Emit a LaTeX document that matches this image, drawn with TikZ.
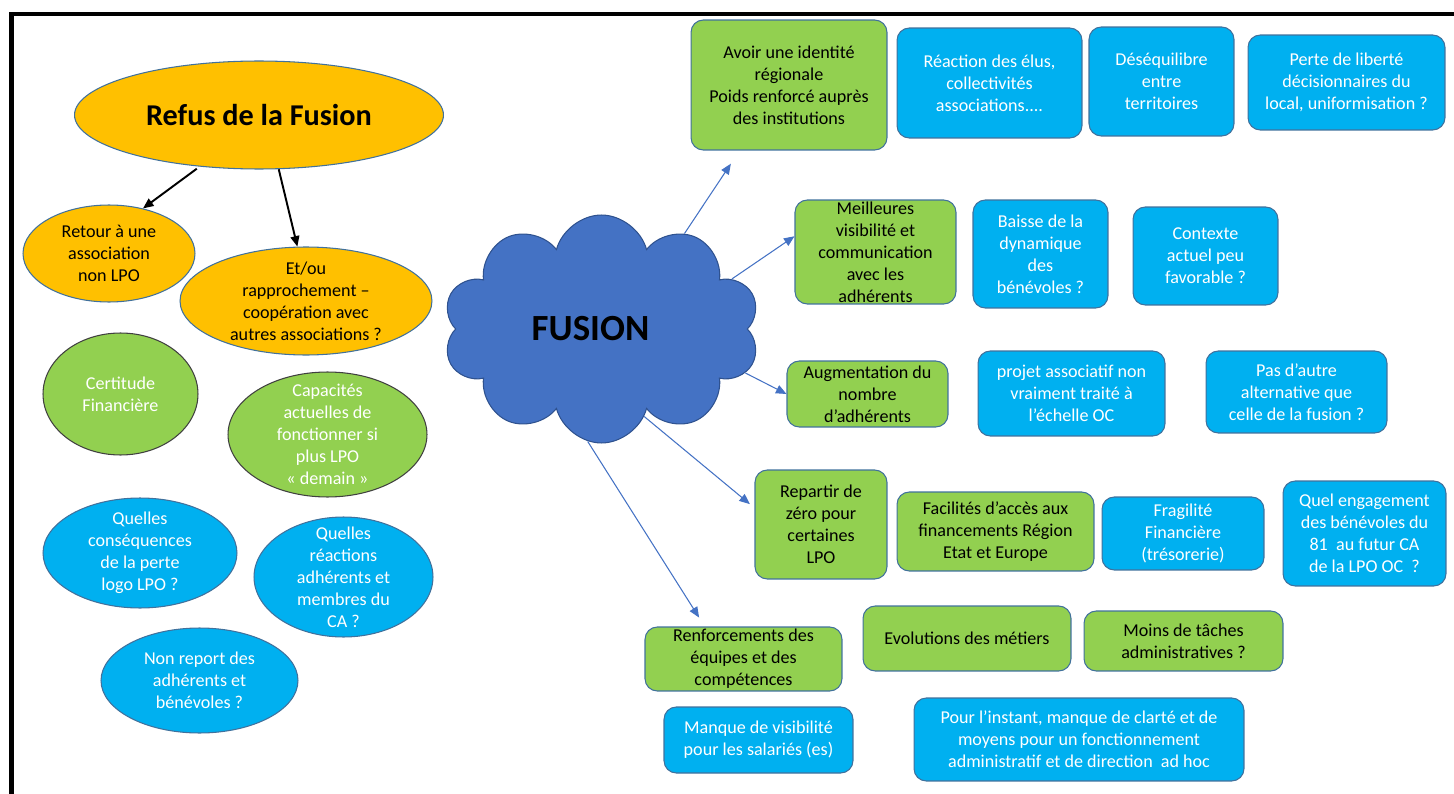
\documentclass[tikz,border=0pt]{standalone}
\usepackage{fontspec}
\setmainfont{Carlito}
\usetikzlibrary{shapes.geometric,shapes.symbols,arrows.meta}
\definecolor{orangefill}{HTML}{FFC000}
\definecolor{greenfill}{HTML}{92D050}
\definecolor{bluefill}{HTML}{00B0F0}
\definecolor{cloudfill}{HTML}{4472C4}
\definecolor{edgeblue}{HTML}{41719C}
\definecolor{clouddraw}{HTML}{2F528F}
\newcommand\boxfont{\fontsize{10.3}{12.5}\selectfont}
\tikzset{
  dims/.style 2 args={minimum width=#1cm, minimum height=#2cm},
  bubble/.style={ellipse, draw=edgeblue, line width=0.6pt, inner sep=-0.3cm, align=center, font=\boxfont},
  orangebubble/.style={bubble, fill=orangefill, text=black},
  greenbubble/.style={bubble, fill=greenfill, draw=black!75, text=white},
  bluebubble/.style={bubble, fill=bluefill, text=white},
  card/.style={rectangle, rounded corners=7pt, draw=edgeblue, line width=0.6pt, inner sep=0pt, align=center, font=\boxfont},
  greencard/.style={card, fill=greenfill, text=black},
  bluecard/.style={card, fill=bluefill, text=white},
  blackarrow/.style={-{Triangle[length=6pt,width=5pt]}, line width=1.1pt, black},
  bluearrow/.style={-{Triangle[length=6pt,width=5pt]}, line width=0.6pt, cloudfill}
}
\begin{document}
\begin{tikzpicture}[x=0.02cm, y=-0.02cm]
            \useasboundingbox (0,0) rectangle (1454,794);
            \draw[line width=2.3pt] (11.5,794) -- (11.5,14) -- (1454,14);
            \node[orangebubble, dims={7.38}{2.16}, font=\fontsize{17.2}{20}\selectfont\bfseries] (refus) at (259,115) {Refus de la Fusion};
            \node[orangebubble, dims={3.44}{1.94}] (retour) at (109,253.5) {Retour à une\\association\\non LPO};
            \node[orangebubble, dims={5.04}{2.16}] (etou) at (306,301) {Et/ou\\rapprochement –\\coopération avec\\autres associations ?};
            \node[greenbubble, dims={3.10}{2.44}] (certitude) at (120.5,394) {Certitude\\Financière};
            \node[greenbubble, dims={3.98}{2.50}] (capacites) at (327.5,434.5) {Capacités\\actuelles de\\fonctionner si\\plus LPO\\«~demain~»};
            \node[bluebubble, dims={3.88}{2.20}] (consequences) at (140,553) {Quelles\\conséquences\\de la perte\\logo LPO ?};
            \node[bluebubble, dims={3.58}{2.40}] (reactions) at (343.5,577) {Quelles\\réactions\\adhérents et\\membres du\\CA ?};
            \node[bluebubble, dims={3.94}{2.10}] (nonreport) at (199.5,680.5) {Non report des\\adhérents et\\bénévoles ?};
            \draw[blackarrow, shorten <=2pt] (refus.221) -- (retour.53);
            \draw[blackarrow] (refus.290) -- (etou.99);
            \node[cloud, cloud puffs=10, aspect=1.4, fill=cloudfill, draw=clouddraw, line width=0.6pt, dims={6.34}{4.56}, font=\fontsize{21}{25}\selectfont\bfseries] (fusion) at (601.5,329) {FUSION\hspace*{0.44cm}};
            \node[greencard, dims={3.92}{2.60}] (avoir) at (789,85) {Avoir une identité\\régionale\\Poids renforcé auprès\\des institutions};
            \node[bluecard, dims={3.70}{2.20}] (reaction) at (989.5,83) {Réaction des élus,\\collectivités\\associations....};
            \node[bluecard, dims={2.90}{2.18}] (desequilibre) at (1161.5,81.5) {Déséquilibre\\entre\\territoires};
            \node[bluecard, dims={3.94}{1.90}] (perte) at (1346.5,82.5) {Perte de liberté\\décisionnaires du\\local, uniformisation ?};
            \node[greencard, dims={3.22}{2.08}] (meilleures) at (875.5,252) {Meilleures\\visibilité et\\communication\\avec les\\adhérents};
            \node[bluecard, dims={2.70}{2.16}] (baisse) at (1040.5,254) {Baisse de la\\dynamique\\des\\bénévoles ?};
            \node[bluecard, dims={2.90}{1.96}] (contexte) at (1205.5,256) {Contexte\\actuel peu\\favorable ?};
            \node[greencard, dims={3.22}{1.32}] (augmentation) at (867.5,394) {Augmentation du\\nombre\\d’adhérents};
            \node[bluecard, dims={3.74}{1.70}] (projet) at (1071.5,393.5) {projet associatif non\\vraiment traité à\\l’échelle OC};
            \node[bluecard, dims={3.62}{1.64}] (pasautre) at (1296.5,392) {Pas d’autre\\alternative que\\celle de la fusion ?};
            \node[greencard, dims={2.64}{2.18}] (repartir) at (821,524.5) {Repartir de\\zéro pour\\certaines\\LPO};
            \node[greencard, dims={3.94}{1.58}] (facilites) at (995.5,531.5) {Facilités d’accès aux\\financements Région\\Etat et Europe};
            \node[bluecard, dims={3.24}{1.46}] (fragilite) at (1183,533.5) {Fragilité\\Financière\\(trésorerie)};
            \node[bluecard, dims={3.26}{2.10}] (engagement) at (1364.5,533.5) {Quel engagement\\des bénévoles du\\81\ \ au futur CA\\de la LPO OC\ \ ?};
            \node[greencard, dims={3.94}{1.28}] (renforcements) at (743.5,659) {Renforcements des\\équipes et des\\compétences};
            \node[greencard, dims={4.16}{1.30}] (evolutions) at (967,638.5) {Evolutions des métiers};
            \node[greencard, dims={3.98}{1.20}] (moins) at (1183.5,641) {Moins de tâches\\administratives ?};
            \node[bluecard, dims={3.78}{1.32}] (manque) at (758.5,740) {Manque de visibilité\\pour les salariés (es)};
            \node[bluecard, dims={6.60}{1.66}] (instant) at (1079,739.5) {Pour l’instant, manque de clarté et de\\moyens pour un fonctionnement\\administratif et de direction\ \ ad hoc};
            \draw[bluearrow, shorten >=9pt] (fusion.49) -- (avoir.233);
            \draw[bluearrow] (fusion.21) -- (meilleures.169);
            \draw[bluearrow] (fusion.-17) -- (augmentation.west);
            \draw[bluearrow, shorten >=3.4pt] (fusion.-64) -- (repartir.166);
            \draw[bluearrow, shorten >=6pt] (fusion.-97) -- (renforcements.140);
\end{tikzpicture}
\end{document}
